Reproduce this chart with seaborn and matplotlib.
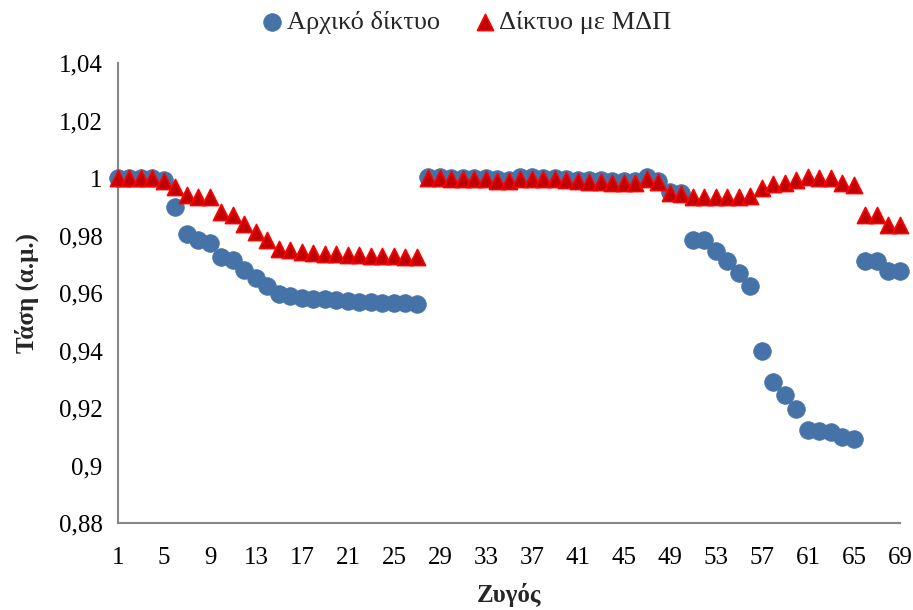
import numpy as np
import pandas as pd
import matplotlib
matplotlib.use("Agg")
import matplotlib.pyplot as plt
import seaborn as sns

# Bus numbers and per-unit voltages
buses = list(range(1, 70))

v_original = [
    1.0000, 1.0000, 1.0000, 1.0000, 0.9993, 0.9899, 0.9807, 0.9786, 0.9775, 0.9725,
    0.9714, 0.9681, 0.9652, 0.9623, 0.9596, 0.9590, 0.9583, 0.9580, 0.9578, 0.9575,
    0.9572, 0.9570, 0.9568, 0.9566, 0.9565, 0.9564, 0.9563, 1.0002, 1.0002, 1.0001,
    1.0001, 1.0001, 1.0000, 0.9995, 0.9994, 1.0002, 1.0002, 1.0001, 1.0000, 0.9998,
    0.9994, 0.9992, 0.9992, 0.9991, 0.9991, 0.9990, 1.0002, 0.9991, 0.9952, 0.9947,
    0.9784, 0.9784, 0.9746, 0.9712, 0.9668, 0.9624, 0.9399, 0.9289, 0.9245, 0.9197,
    0.9123, 0.9121, 0.9118, 0.9098, 0.9091, 0.9712, 0.9712, 0.9678, 0.9678,
]

v_with_dg = [
    1.0000, 1.0000, 1.0000, 1.0000, 0.9991, 0.9970, 0.9942, 0.9935, 0.9933, 0.9883,
    0.9871, 0.9840, 0.9811, 0.9783, 0.9754, 0.9748, 0.9741, 0.9738, 0.9736, 0.9734,
    0.9732, 0.9731, 0.9730, 0.9729, 0.9728, 0.9727, 0.9727, 0.9999, 0.9999, 0.9998,
    0.9998, 0.9997, 0.9996, 0.9989, 0.9988, 0.9998, 0.9998, 0.9997, 0.9996, 0.9994,
    0.9988, 0.9985, 0.9985, 0.9984, 0.9984, 0.9983, 0.9998, 0.9986, 0.9947, 0.9943,
    0.9935, 0.9934, 0.9933, 0.9934, 0.9935, 0.9938, 0.9966, 0.9978, 0.9984, 0.9993,
    1.0005, 1.0001, 0.9999, 0.9981, 0.9976, 0.9871, 0.9871, 0.9837, 0.9837,
]

series_names = ["Αρχικό δίκτυο", "Δίκτυο με ΜΔΠ"]
x_ticks = list(range(1, 70, 4))
y_ticks = [0.88, 0.90, 0.92, 0.94, 0.96, 0.98, 1.00, 1.02, 1.04]
y_tick_labels = ["0,88", "0,9", "0,92", "0,94", "0,96", "0,98", "1", "1,02", "1,04"]

df = pd.DataFrame({"bus": buses, "orig": v_original, "dg": v_with_dg})

sns.set_theme(style="white")
plt.rcParams["font.family"] = ["Liberation Serif", "DejaVu Serif"]

fig = plt.figure(figsize=(9.13, 6.10), dpi=100)
ax = fig.add_axes([0.1292, 0.1426, 0.8565, 0.7541])

grey = "#868686"
blue = "#4572A7"

sns.scatterplot(data=df, x="bus", y="orig", ax=ax, marker="o", s=160,
                color=blue, edgecolor=blue, linewidth=0.6,
                label=series_names[0], clip_on=False, zorder=3)
sns.scatterplot(data=df, x="bus", y="dg", ax=ax, marker="^", s=135,
                color="#C00000", edgecolor="#FF0000", linewidth=1.2,
                label=series_names[1], clip_on=False, zorder=4)

ax.set_xlim(1, 69)
ax.set_ylim(0.88, 1.04)
ax.set_xticks(x_ticks)
ax.set_xticklabels([str(t) for t in x_ticks])
ax.set_yticks(y_ticks)
ax.set_yticklabels(y_tick_labels)

for side in ["top", "right"]:
    ax.spines[side].set_visible(False)
for side in ["left", "bottom"]:
    ax.spines[side].set_color(grey)
    ax.spines[side].set_linewidth(1.5)

ax.tick_params(axis="both", which="major", direction="out", length=7,
               width=1.5, color=grey, labelsize=18, labelcolor="black")
ax.tick_params(axis="x", pad=10)
ax.tick_params(axis="y", pad=4)
ax.grid(False)

ax.set_xlabel("Ζυγός", fontsize=18, fontweight="bold", labelpad=10)
ax.set_ylabel("Τάση (α.μ.)", fontsize=18, fontweight="bold", labelpad=14)

leg = ax.legend(loc="center", bbox_to_anchor=(0.446, 1.089), ncol=2,
                frameon=False, fontsize=19, handlelength=0.8,
                handletextpad=0.15, columnspacing=1.3,
                markerscale=1.0, borderaxespad=0)

fig.savefig("out.png", dpi=100, facecolor="white")
